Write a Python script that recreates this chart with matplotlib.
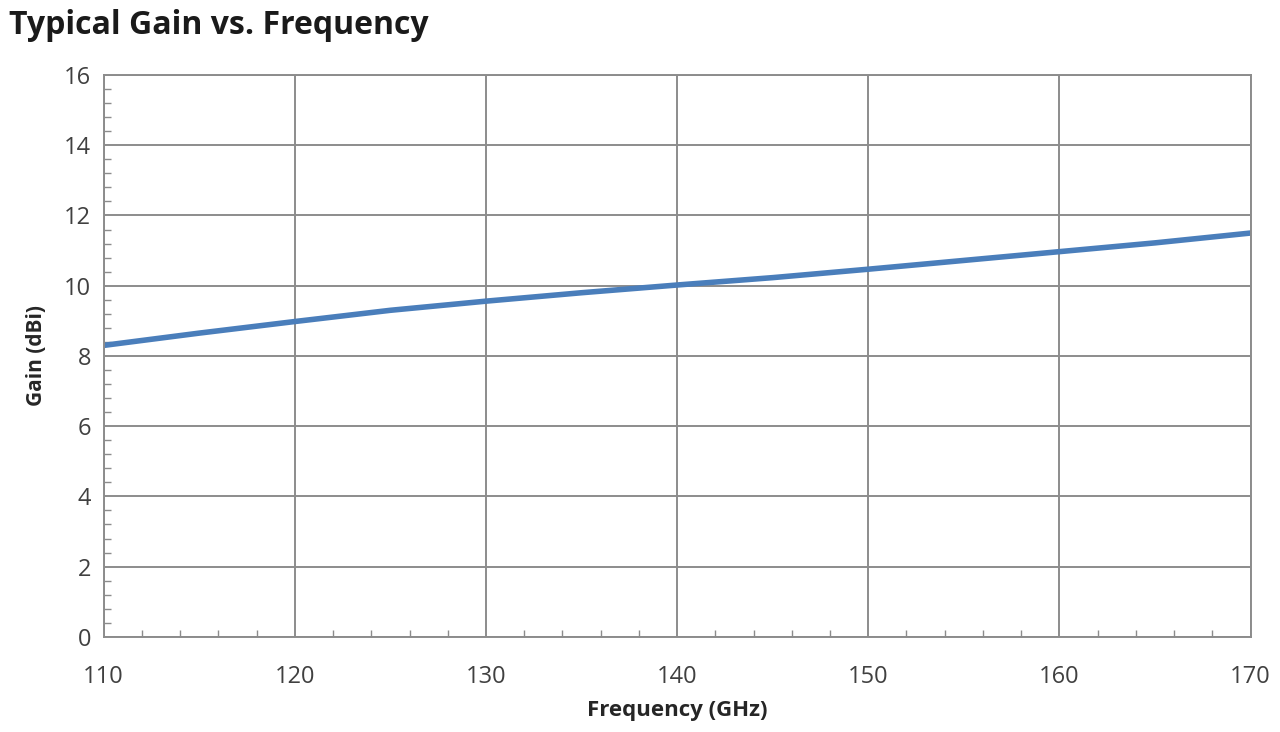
import matplotlib
matplotlib.use('Agg')
import matplotlib.pyplot as plt
from matplotlib.ticker import MultipleLocator

plt.rcParams['font.family'] = ['Open Sans', 'DejaVu Sans']

freq = [110, 115, 120, 125, 130, 135, 140, 145, 150, 155, 160, 165, 170]
gain = [8.3, 8.65, 8.98, 9.3, 9.56, 9.8, 10.02, 10.23, 10.47, 10.72, 10.97, 11.22, 11.5]

fig = plt.figure(figsize=(12.8, 7.32), dpi=100)
ax = fig.add_axes([0.081, 0.13, 0.896, 0.7675])

ax.plot(freq, gain, color='#4a7ebb', linewidth=4, solid_capstyle='butt')

ax.set_xlim(110, 170)
ax.set_ylim(0, 16)
ax.xaxis.set_major_locator(MultipleLocator(10))
ax.xaxis.set_minor_locator(MultipleLocator(2))
ax.yaxis.set_major_locator(MultipleLocator(2))
ax.yaxis.set_minor_locator(MultipleLocator(0.4))

ax.grid(True, which='major', color='#8c8c8c', linewidth=1.4)
ax.set_axisbelow(True)
for s in ax.spines.values():
    s.set_color('#8c8c8c')
    s.set_linewidth(1.4)

ax.tick_params(which='major', length=0, labelsize=17, labelcolor='#404040')
ax.tick_params(axis='x', which='major', pad=20)
ax.tick_params(axis='y', which='major', pad=9)
ax.tick_params(which='minor', direction='in', length=5, color='#8c8c8c', width=1)

ax.set_xlabel('Frequency (GHz)', fontsize=16, fontweight='bold', color='#262626', labelpad=8)
ax.set_ylabel('Gain (dBi)', fontsize=15, fontweight='bold', color='#262626', labelpad=12)

fig.text(0.007, 0.965, 'Typical Gain vs. Frequency', fontsize=23, fontweight='bold',
         color='#1a1a1a', va='center', ha='left')

fig.savefig('out.png', dpi=100)
